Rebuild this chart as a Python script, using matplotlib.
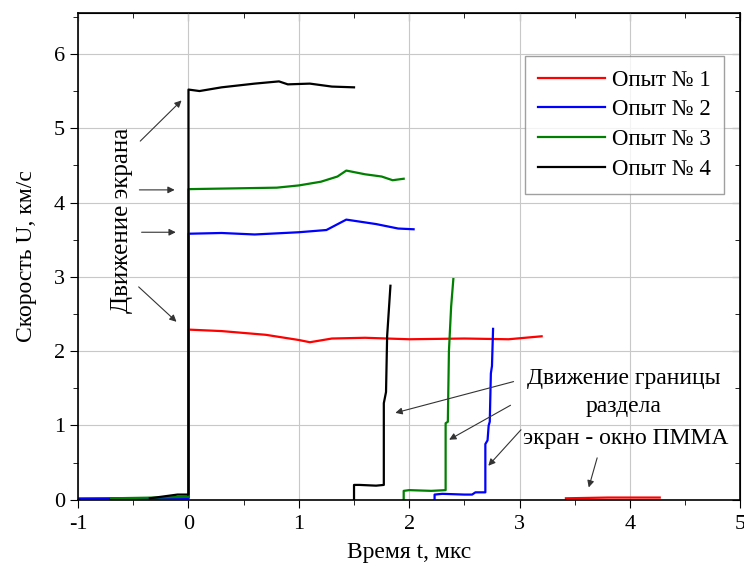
import matplotlib
matplotlib.use("Agg")
import matplotlib.pyplot as plt
from matplotlib.ticker import MultipleLocator

plt.rcParams["font.family"] = ["Liberation Serif", "DejaVu Serif"]
plt.rcParams["axes.unicode_minus"] = False

# Опыт 1 (красный)
t1 = [-1.0, 0.0, 0.0, 0.3, 0.7, 1.0, 1.1, 1.3, 1.6, 2.0, 2.5, 2.9, 3.2]
u1 = [0.02, 0.02, 2.29, 2.27, 2.22, 2.15, 2.12, 2.17, 2.18, 2.16, 2.17, 2.16, 2.2]
t1b = [3.42, 3.8, 4.27]
u1b = [0.02, 0.03, 0.03]

# Опыт 2 (синий)
t2 = [-1.0, -0.5, 0.0, 0.0, 0.3, 0.6, 1.0, 1.25, 1.43, 1.7, 1.9, 2.04]
u2 = [0.01, 0.02, 0.02, 3.58, 3.59, 3.57, 3.6, 3.63, 3.77, 3.71, 3.65, 3.64]
t2b = [2.23, 2.23, 2.3, 2.5, 2.57, 2.6, 2.69, 2.69, 2.71, 2.72, 2.73, 2.74, 2.75, 2.76]
u2b = [0.0, 0.07, 0.08, 0.07, 0.07, 0.1, 0.1, 0.75, 0.8, 1.0, 1.05, 1.7, 1.8, 2.3]

# Опыт 3 (зелёный)
t3 = [-0.7, -0.3, 0.0, 0.0, 0.4, 0.8, 1.0, 1.2, 1.35, 1.43, 1.6, 1.75, 1.85, 1.95]
u3 = [0.02, 0.03, 0.04, 4.18, 4.19, 4.2, 4.23, 4.28, 4.35, 4.43, 4.38, 4.35, 4.3, 4.32]
t3b = [1.95, 1.95, 2.0, 2.2, 2.33, 2.33, 2.35, 2.36, 2.38, 2.4]
u3b = [0.0, 0.12, 0.13, 0.12, 0.13, 1.03, 1.05, 2.0, 2.6, 2.97]

# Опыт 4 (чёрный)
t4 = [-0.35, -0.2, -0.1, 0.0, 0.0, 0.1, 0.3, 0.6, 0.82, 0.9, 1.1, 1.3, 1.5]
u4 = [0.02, 0.05, 0.07, 0.07, 5.52, 5.5, 5.55, 5.6, 5.63, 5.59, 5.6, 5.56, 5.55]
t4b = [1.5, 1.5, 1.55, 1.7, 1.77, 1.77, 1.79, 1.8, 1.83]
u4b = [0.0, 0.2, 0.2, 0.19, 0.2, 1.3, 1.45, 2.2, 2.88]

series = [
    (t1, u1, t1b, u1b, "red", "Опыт № 1"),
    (t2, u2, t2b, u2b, "blue", "Опыт № 2"),
    (t3, u3, t3b, u3b, "green", "Опыт № 3"),
    (t4, u4, t4b, u4b, "black", "Опыт № 4"),
]

fig = plt.figure(figsize=(7.44, 5.66), dpi=100)
ax = fig.add_axes([0.105, 0.117, 0.89, 0.86])

for ta, ua, tb, ub, c, lab in series:
    ax.plot(ta, ua, color=c, lw=1.6, label=lab)
    ax.plot(tb, ub, color=c, lw=1.6)

ax.set_xlim(-1, 5)
ax.set_ylim(0, 6.55)
ax.xaxis.set_major_locator(MultipleLocator(1))
ax.xaxis.set_minor_locator(MultipleLocator(0.5))
ax.yaxis.set_major_locator(MultipleLocator(1))
ax.yaxis.set_minor_locator(MultipleLocator(0.5))
ax.grid(True, which="major", color="#c8c8c8", lw=0.8)
ax.tick_params(which="both", direction="out", labelsize=16)
ax.tick_params(axis="x", pad=5)
ax.tick_params(which="major", length=6)
ax.tick_params(which="minor", length=3.5)
for s in ax.spines.values():
    s.set_linewidth(1.2)

# зеркальные засечки сверху и справа
top = ax.secondary_xaxis("top")
top.xaxis.set_major_locator(MultipleLocator(1))
top.xaxis.set_minor_locator(MultipleLocator(0.5))
top.tick_params(which="both", direction="in", labeltop=False)
top.tick_params(which="major", length=6)
top.tick_params(which="minor", length=3.5)
right = ax.secondary_yaxis("right")
right.yaxis.set_major_locator(MultipleLocator(1))
right.yaxis.set_minor_locator(MultipleLocator(0.5))
right.tick_params(which="both", direction="in", labelright=False)
right.tick_params(which="major", length=6)
right.tick_params(which="minor", length=3.5)

ax.set_xlabel("Время t, мкс", fontsize=17, labelpad=6)
ax.set_ylabel("Скорость U, км/с", fontsize=17, labelpad=12)

leg = ax.legend(loc="upper right", bbox_to_anchor=(0.976, 0.912), borderaxespad=0,
                fontsize=16.5, frameon=True, fancybox=False, edgecolor="#888888",
                handlelength=2.9, handletextpad=0.3, borderpad=0.6, labelspacing=0.38)
leg.get_frame().set_linewidth(1.0)

arrow = dict(arrowstyle="-|>", color="#333333", lw=0.8, mutation_scale=10)

ax.text(-0.6, 3.76, "Движение экрана", rotation=90, fontsize=18,
        ha="center", va="center")
ax.annotate("", xy=(-0.045, 5.4), xytext=(-0.455, 4.8), arrowprops=arrow)
ax.annotate("", xy=(-0.1, 4.17), xytext=(-0.47, 4.17), arrowprops=arrow)
ax.annotate("", xy=(-0.09, 3.6), xytext=(-0.45, 3.6), arrowprops=arrow)
ax.annotate("", xy=(-0.09, 2.37), xytext=(-0.47, 2.89), arrowprops=arrow)

ax.text(3.94, 1.63, "Движение границы", fontsize=17, ha="center", va="center")
ax.text(3.94, 1.25, "раздела", fontsize=17, ha="center", va="center")
ax.text(3.96, 0.83, "экран - окно ПММА", fontsize=17, ha="center", va="center")
ax.annotate("", xy=(1.85, 1.16), xytext=(2.97, 1.6), arrowprops=arrow)
ax.annotate("", xy=(2.34, 0.79), xytext=(2.94, 1.29), arrowprops=arrow)
ax.annotate("", xy=(2.7, 0.43), xytext=(3.03, 0.97), arrowprops=arrow)
ax.annotate("", xy=(3.62, 0.13), xytext=(3.71, 0.6), arrowprops=arrow)

fig.savefig("out.png", dpi=100)
